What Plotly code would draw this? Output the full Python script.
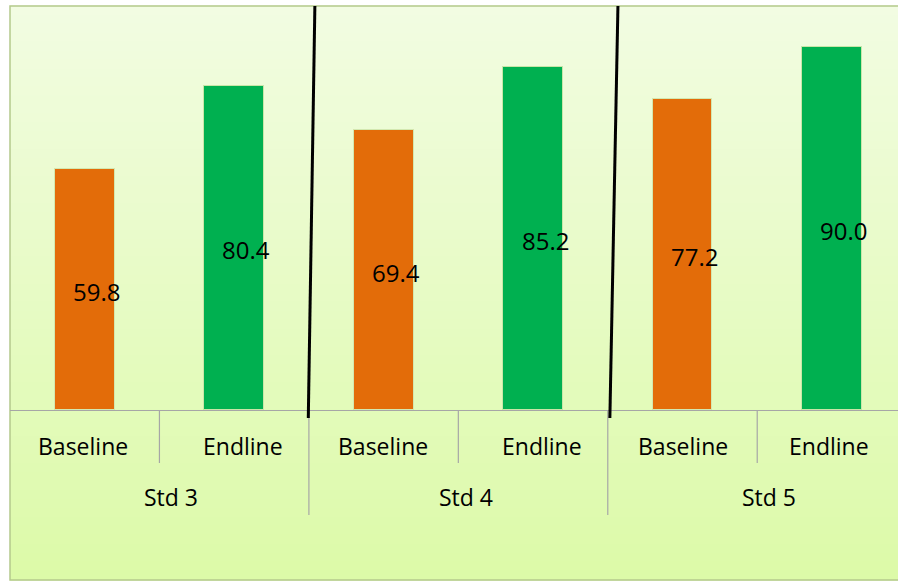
import plotly.graph_objects as go

# ---- data ----
groups = ["Std 3", "Std 4", "Std 5"]
phases = ["Baseline", "Endline"]
baseline = [59.8, 69.4, 77.2]
endline = [80.4, 85.2, 90.0]

# ---- style ----
ORANGE = "#E36C09"
GREEN = "#00B050"
FONT = "Open Sans"
TXT = "#000000"
AX = "#A6A6A6"

W, H = 898, 583
PLOT_TOP, PLOT_BOTTOM = 7, 410
ph = PLOT_BOTTOM - PLOT_TOP

# small horizontal nudges (pixels) of axis labels, as in the original picture
phase_label_shift = [[-2, 9], [-1, 9], [0, -3]]
group_label_shift = [12, 8, 12]


def py2paper(py):
    return (PLOT_BOTTOM - py) / ph


n_ph = len(phases)
xb = [g * n_ph + 0 for g in range(len(groups))]
xe = [g * n_ph + 1 for g in range(len(groups))]

fig = go.Figure()
fig.add_trace(go.Bar(x=xb, y=baseline, name="Baseline", width=0.4,
                     marker=dict(color=ORANGE, line=dict(color="#D3E8B0", width=1))))
fig.add_trace(go.Bar(x=xe, y=endline, name="Endline", width=0.4,
                     marker=dict(color=GREEN, line=dict(color="#C9E6A8", width=1))))

shapes = []
# gradient background (chart area) drawn as thin bands
top_c = (242, 252, 226)
bot_c = (220, 250, 168)
y_top_px, y_bot_px = 6, 580
nb = 64
for i in range(nb):
    t = (i + 0.5) / nb
    c = tuple(round(top_c[k] + (bot_c[k] - top_c[k]) * t) for k in range(3))
    a = y_top_px + (y_bot_px - y_top_px) * i / nb
    b = y_top_px + (y_bot_px - y_top_px) * (i + 1) / nb
    shapes.append(dict(type="rect", xref="paper", yref="paper", x0=0, x1=1.02,
                       y0=py2paper(b) - 0.001, y1=py2paper(a) + 0.001,
                       fillcolor="rgb(%d,%d,%d)" % c, line=dict(width=0), layer="below"))
# chart border
shapes.append(dict(type="rect", xref="paper", yref="paper", x0=0, x1=1.05,
                   y0=py2paper(580), y1=py2paper(6),
                   line=dict(color="#B4C98C", width=1.5), fillcolor="rgba(0,0,0,0)", layer="below"))

# axis separators
for g in range(len(groups)):
    shapes.append(dict(type="line", xref="x", yref="paper", x0=g * n_ph + 0.5, x1=g * n_ph + 0.5,
                       y0=0, y1=py2paper(463), line=dict(color=AX, width=1.2)))
    shapes.append(dict(type="line", xref="x", yref="paper", x0=g * n_ph + 1.5, x1=g * n_ph + 1.5,
                       y0=0, y1=py2paper(515), line=dict(color=AX, width=1.2)))

# hand-drawn black slanted lines between groups
for g, (dt, db) in enumerate([(0.04, -0.004), (0.068, 0.014)]):
    bx = g * n_ph + 1.5
    shapes.append(dict(type="line", xref="x", yref="paper", x0=bx + dt, x1=bx + db,
                       y0=py2paper(6), y1=py2paper(418), line=dict(color="#000000", width=3),
                       layer="above"))

annotations = []
# value labels inside bars
for xs, vals in [(xb, baseline), (xe, endline)]:
    for x, v in zip(xs, vals):
        annotations.append(dict(x=x, y=v / 2, xref="x", yref="y", text=f"{v:.1f}",
                                showarrow=False, xshift=12, yshift=-2,
                                font=dict(family=FONT, size=24, color=TXT)))
# category labels
for g in range(len(groups)):
    for p, lab in enumerate(phases):
        annotations.append(dict(x=g * n_ph + p, y=py2paper(446), xref="x", yref="paper",
                                text=lab, showarrow=False, yanchor="middle",
                                xshift=phase_label_shift[g][p],
                                font=dict(family=FONT, size=23, color=TXT)))
    annotations.append(dict(x=g * n_ph + 0.5, y=py2paper(497), xref="x", yref="paper",
                            text=groups[g], showarrow=False, yanchor="middle",
                            xshift=group_label_shift[g],
                            font=dict(family=FONT, size=23, color=TXT)))

fig.update_layout(
    width=W, height=H,
    margin=dict(l=10, r=0, t=PLOT_TOP, b=H - PLOT_BOTTOM),
    paper_bgcolor="white",
    plot_bgcolor="rgba(0,0,0,0)",
    showlegend=False,
    shapes=shapes,
    annotations=annotations,
    xaxis=dict(range=[-0.5, 5.442], showticklabels=False, showgrid=False, zeroline=False,
               showline=True, linecolor=AX, linewidth=1.2, ticks=""),
    yaxis=dict(range=[0, 100], showticklabels=False, showgrid=False, zeroline=False,
               showline=False, ticks=""),
    bargap=0,
)

fig.write_html("out.html")
